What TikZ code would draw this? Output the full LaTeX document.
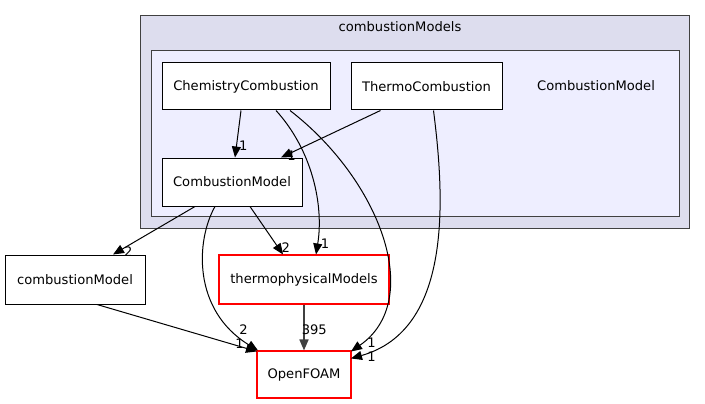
\documentclass[tikz,border=0pt]{standalone}
\usepackage{fontspec}
\setmainfont{DejaVu Sans}
\usetikzlibrary{arrows.meta}
\definecolor{outerfill}{HTML}{DDDDEE}
\definecolor{innerfill}{HTML}{EEEEFF}
\definecolor{clborder}{HTML}{404040}
\begin{document}
\begin{tikzpicture}[x=1pt,y=-1pt,
  every node/.style={font=\fontsize{13.1}{15}\selectfont, inner sep=0pt},
  dirbox/.style={draw=black, fill=white, line width=1pt},
  redbox/.style={draw=red, fill=white, line width=1.05pt},
  dep/.style={draw=black, line width=1pt, -{Triangle[length=11pt,width=9pt]}},
  heavy/.style={draw=clborder, line width=1.6pt, -{Triangle[length=11pt,width=9pt]}},
  lbl/.style={font=\fontsize{13.1}{15}\selectfont}]
\useasboundingbox (0,0) rectangle (705,404);
\fill[white] (0,0) rectangle (705,404);
% clusters
\draw[clborder, fill=outerfill, line width=1pt] (140,16) rectangle (689,228);
\node (outerlbl) at (400,27) {combustionModels};
\draw[clborder, fill=innerfill, line width=1pt] (151,51) rectangle (679,216);
\node (innerlbl) at (596,86) {CombustionModel};
% nodes
\node[dirbox, minimum width=168pt, minimum height=47pt] (chem) at (246,86.5) {ChemistryCombustion};
\node[dirbox, minimum width=151pt, minimum height=47pt] (thermo) at (426.5,86.5) {ThermoCombustion};
\node[dirbox, minimum width=140pt, minimum height=48pt] (cm) at (232,182) {CombustionModel};
\node[dirbox, minimum width=140pt, minimum height=49pt] (cmodel) at (75,279.5) {combustionModel};
\node[redbox, minimum width=170pt, minimum height=49pt] (tpm) at (304,279.5) {thermophysicalModels};
\node[redbox, minimum width=94pt, minimum height=47pt] (of) at (304,374.5) {OpenFOAM};
% edges
\draw[dep] ([xshift=-5pt]chem.south) -- ([xshift=3pt]cm.north) node[lbl, pos=0.75, right=2pt] {1};
\draw[dep] ([xshift=-46pt]thermo.south) -- ([xshift=49pt]cm.north) node[lbl, pos=0.97, right=3pt] {1};
\draw[dep] ([xshift=30pt]chem.south) .. controls (312,150) and (324,205) .. ([xshift=12pt]tpm.north) node[lbl, pos=0.93, right=3pt] {1};
\draw[dep] ([xshift=44pt]chem.south) .. controls (380,180) and (425,300) .. ([xshift=47pt,yshift=-1pt]of.north);
\node[lbl] (lblA) at ([shift={(20,-8)}]of.north east) {1};
\draw[dep] ([xshift=7pt]thermo.south) .. controls (445,200) and (452,330) .. ([xshift=47pt,yshift=-8pt]of.north);
\node[lbl] (lblB) at ([shift={(20,6)}]of.north east) {1};
\draw[dep] ([xshift=-37pt]cm.south) -- ([xshift=38pt]cmodel.north) node[lbl, pos=0.93, right=5pt] {2};
\draw[dep] ([xshift=18pt]cm.south) -- ([xshift=-21pt]tpm.north) node[lbl, pos=0.85, right=3pt] {2};
\draw[dep] ([xshift=-17pt]cm.south) .. controls (196,240) and (192,310) .. ([xshift=-46pt]of.north);
\node[lbl] (lblC) at ([shift={(-13,-21)}]of.north west) {2};
\node[lbl] (lblD) at ([shift={(-17,-7)}]of.north west) {1};
\draw[dep] ([xshift=22pt]cmodel.south) -- ([xshift=-47pt,yshift=-1pt]of.north);
\draw[heavy] (tpm.south) -- (of.north) node[lbl, pos=0.55, right=-3pt] {395};
\end{tikzpicture}
\end{document}
